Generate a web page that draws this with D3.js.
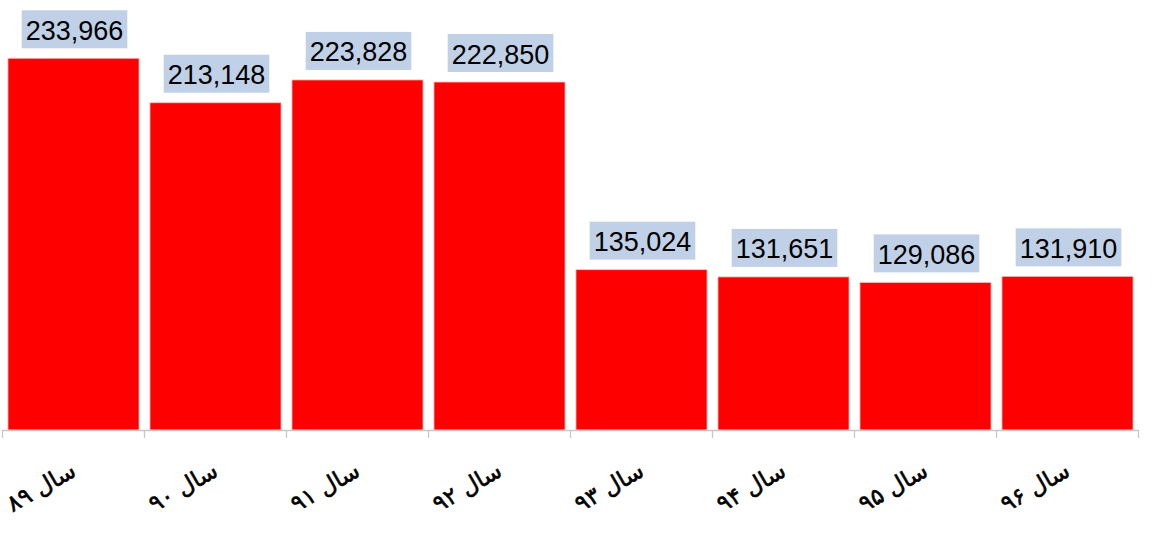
<!DOCTYPE html>
<html>
<head>
<meta charset="utf-8">
<script src="https://cdn.jsdelivr.net/npm/d3@7"></script>
<style>
  body { margin: 0; background: #fff; }
  svg { display: block; }
</style>
</head>
<body>
<svg id="chart"></svg>
<script>
var years = ['سال ۸۹', 'سال ۹۰', 'سال ۹۱', 'سال ۹۲', 'سال ۹۳', 'سال ۹۴', 'سال ۹۵', 'سال ۹۶'];
var counts = [233966, 213148, 223828, 222850, 135024, 131651, 129086, 131910];

var width = 1161, height = 533;
var base_y = 430;

var svg = d3.select('#chart').attr('width', width).attr('height', height);

let x = d3.scaleBand().domain(years).range([2.5, 1138.5]).paddingInner(0.077).paddingOuter(0.0385);
let y = d3.scaleLinear().domain([60000, 250000]).range([base_y, 24]);

let rows = years.map((d, i) => ({year: d, val: counts[i]}));

svg.selectAll('.bar')
  .data(rows)
  .enter()
  .append('rect')
    .attr('class', 'bar')
    .attr('x', d => x(d.year))
    .attr('width', x.bandwidth())
    .attr('y', d => y(d.val))
    .attr('height', d => base_y - y(d.val))
    .style('fill', '#ff0000')
    .style('stroke', '#f2c4c4')
    .style('stroke-width', 0.8);

// axis line + ticks at band boundaries
let ax = svg.append('g')
  .attr('transform', 'translate(0,' + base_y + ')')
  .call(d3.axisBottom(x).tickSize(0).tickFormat(''));
ax.select('.domain').attr('stroke', '#c8c8c8').attr('stroke-width', 1.3);
let edges = years.map(d => x(d) - x.step() * x.paddingInner() / 2);
edges.push(x(years[years.length - 1]) + x.bandwidth() + x.step() * x.paddingInner() / 2);
ax.selectAll('.edge')
  .data(edges)
  .enter()
  .append('line')
    .attr('class', 'edge')
    .attr('x1', d => d).attr('x2', d => d)
    .attr('y1', 0).attr('y2', 8)
    .attr('stroke', '#c8c8c8')
    .attr('stroke-width', 1.3);

// value labels with boxes
let fmt = d3.format(',');
let lab = svg.selectAll('.val_label')
  .data(rows)
  .enter()
  .append('g')
    .attr('class', 'val_label');
lab.each(function(d) {
  let g = d3.select(this);
  let cx = x(d.year) + x.bandwidth() / 2 + 1;
  let t = g.append('text')
    .attr('x', cx)
    .attr('y', y(d.val) - 18.5)
    .attr('text-anchor', 'middle')
    .style('font-family', 'Liberation Sans, Arial, sans-serif')
    .style('font-size', '27px')
    .style('fill', '#000')
    .text(fmt(d.val));
  let w = t.node().getBBox().width + 8;
  g.insert('rect', 'text')
    .attr('x', cx - w / 2)
    .attr('y', y(d.val) - 48)
    .attr('width', w)
    .attr('height', 38)
    .style('fill', '#c0d1e7');
});

// rotated persian category labels
svg.selectAll('.year_label')
  .data(rows)
  .enter()
  .append('text')
    .attr('class', 'year_label')
    .attr('transform', d => 'translate(' + (x(d.year) + x.bandwidth() / 2 + 4) + ',' + 475 + ') rotate(-30)')
    .attr('text-anchor', 'end')
    .style('font-family', 'DejaVu Sans, sans-serif')
    .style('font-size', '23px')
    .style('fill', '#000')
    .style('stroke', '#000')
    .style('stroke-width', 0.6)
    .text(d => d.year);
</script>
</body>
</html>
